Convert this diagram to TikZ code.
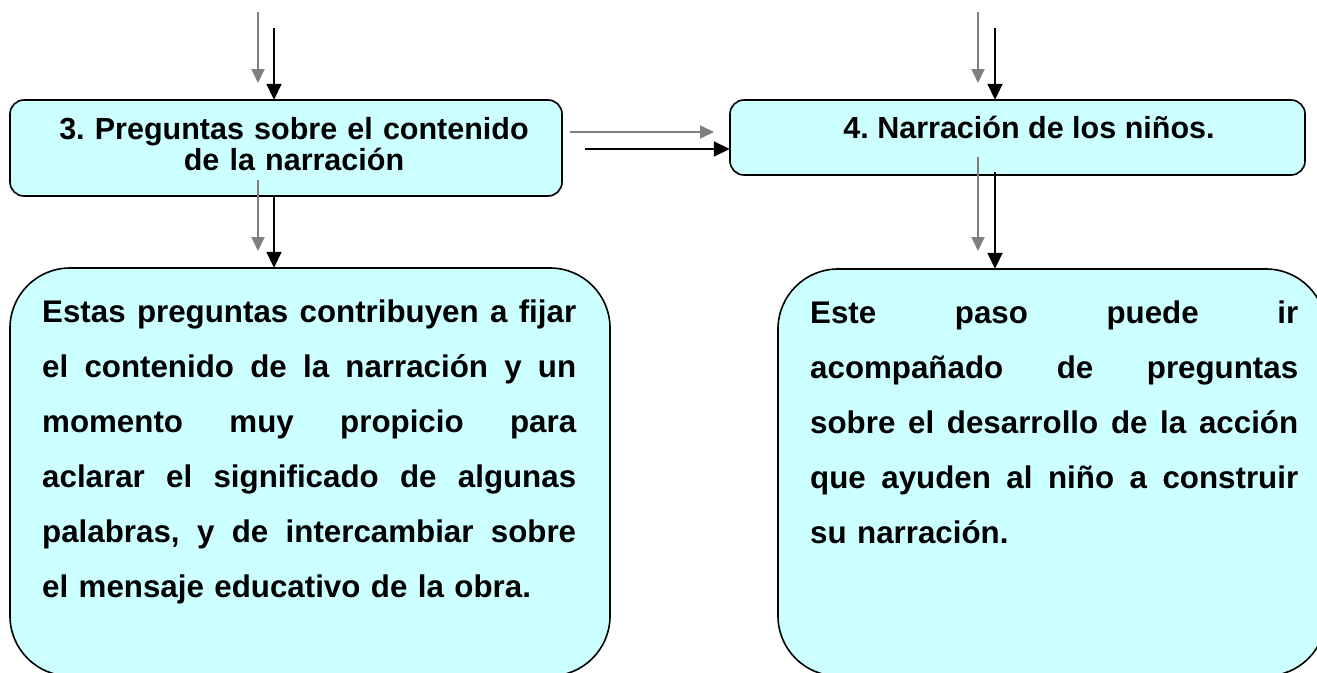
\documentclass[tikz,border=0pt]{standalone}
\usepackage{fontspec}
\setmainfont{Liberation Sans}
\usetikzlibrary{arrows.meta}
\definecolor{boxfill}{HTML}{CCFFFF}
\definecolor{arrgray}{HTML}{808080}
\newcommand{\jl}[2]{\leavevmode\hbox to #1{#2}}
\tikzset{
  x=1pt, y=-1pt,
  smallbox/.style={draw=black, line width=1.6pt, fill=boxfill, rounded corners=14pt},
  bigbox/.style={draw=black, line width=1.6pt, fill=boxfill, rounded corners=60pt},
  blackarr/.style={draw=black, line width=1.8pt, -{Triangle[length=16pt,width=15pt]}},
  grayarr/.style={draw=arrgray, line width=1.8pt, -{Triangle[length=14pt,width=13pt]}},
  titletext/.style={font=\fontsize{30.5}{31}\selectfont\bfseries\frenchspacing, inner sep=0pt, align=center},
  bodytext/.style={font=\fontsize{31.3}{55}\selectfont\bfseries\frenchspacing, inner sep=0pt, align=left, anchor=base west},
}
\begin{document}
\begin{tikzpicture}
\useasboundingbox (0,0) rectangle (1317,672);
\clip (0,0) rectangle (1317,672);
\fill[white] (0,0) rectangle (1317,672);

% boxes
\draw[smallbox] (10,100) rectangle (562,196);
\draw[smallbox] (730,100) rectangle (1305,175);
\draw[bigbox] (10,268) rectangle (610,676);
\draw[bigbox] (778,269) rectangle (1326,676);

% named anchor nodes for the boxes
\node[inner sep=0pt, minimum width=552pt, minimum height=96pt] (box3) at (286,148) {};
\node[inner sep=0pt, minimum width=575pt, minimum height=75pt] (box4) at (1017.5,137.5) {};
\node[inner sep=0pt, minimum width=600pt, minimum height=408pt] (boxA) at (310,472) {};
\node[inner sep=0pt, minimum width=548pt, minimum height=407pt] (boxB) at (1052,472.5) {};

% texts
\node[titletext, text width=540pt, anchor=base] (t3) at (294,139)
  {3. Preguntas sobre el contenido\\de la narración};
\node[titletext, anchor=base] (t4) at (1029,138) {4. Narración de los niños.};

\node[bodytext, text width=534pt] (tA) at (42,322.7) {%
\jl{534pt}{Estas \hfill preguntas \hfill contribuyen \hfill a \hfill fijar}\\
\jl{534pt}{el \hfill contenido \hfill de \hfill la \hfill narración \hfill y \hfill un}\\
\jl{534pt}{momento \hfill muy \hfill propicio \hfill para}\\
\jl{534pt}{aclarar \hfill el \hfill significado \hfill de \hfill algunas}\\
\jl{534pt}{palabras, \hfill y \hfill de \hfill intercambiar \hfill sobre}\\
el mensaje educativo de la obra.};

\node[bodytext, text width=488pt] (tB) at (810,323) {%
\jl{488pt}{Este \hfill paso \hfill puede \hfill ir}\\
\jl{488pt}{acompañado \hfill de \hfill preguntas}\\
\jl{488pt}{sobre \hfill el \hfill desarrollo \hfill de \hfill la \hfill acción}\\
\jl{488pt}{que \hfill ayuden \hfill al \hfill niño \hfill a \hfill construir}\\
su narración.};

% free ends
\coordinate (g1s) at (258,12);  \coordinate (g1e) at (258,83);
\coordinate (k1s) at (274,28);
\coordinate (g2s) at (258,180); \coordinate (g2e) at (258,251);
\coordinate (k2s) at (274,196);
\coordinate (g3s) at (978,12);  \coordinate (g3e) at (978,83);
\coordinate (k3s) at (995,28);
\coordinate (g4s) at (978,157); \coordinate (g4e) at (978,251);
\coordinate (k4s) at (995,172);
\coordinate (ghs) at (570,132); \coordinate (ghe) at (714,132);
\coordinate (khs) at (585,149);

% arrows
\draw[grayarr] (g1s) -- (g1e);
\draw[blackarr] (k1s) -- (k1s |- box3.north);
\draw[grayarr] (g2s) -- (g2e);
\draw[blackarr] (k2s) -- (k2s |- boxA.north);
\draw[grayarr] (g3s) -- (g3e);
\draw[blackarr] (k3s) -- (k3s |- box4.north);
\draw[grayarr] (g4s) -- (g4e);
\draw[blackarr] (k4s) -- (k4s |- boxB.north);
\draw[grayarr] (ghs) -- (ghe);
\draw[blackarr] (khs) -- (khs -| box4.west);
\end{tikzpicture}
\end{document}
